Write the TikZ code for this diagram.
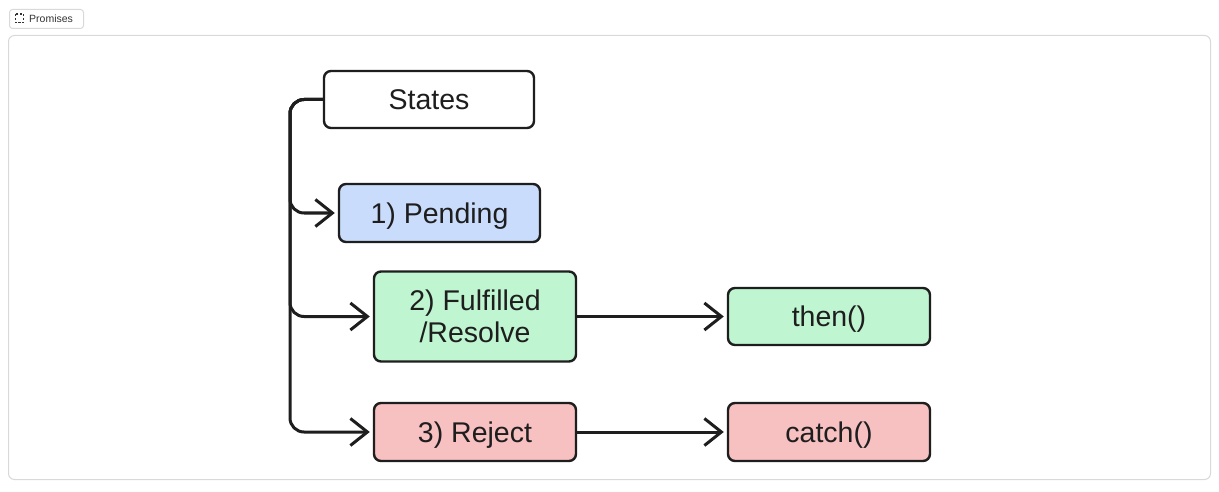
\documentclass[tikz,border=0pt]{standalone}
\usepackage{fontspec}
\setmainfont{Liberation Sans}
\usetikzlibrary{arrows.meta}
\definecolor{edgec}{HTML}{1E1E1E}
\definecolor{pendfill}{HTML}{C9DCFB}
\definecolor{okfill}{HTML}{BFF5D0}
\definecolor{badfill}{HTML}{F7C0C1}
\definecolor{panelc}{HTML}{D9D9D9}
\definecolor{tagtext}{HTML}{333333}
\tikzset{
  x=1pt, y=-1pt,
  statebox/.style={draw=edgec, line width=2.4pt, rounded corners=7pt, inner sep=0pt,
    align=center, text=edgec, font=\fontsize{28.5}{32}\selectfont,
    text height=20.5pt, text depth=0pt},
  conn/.style={draw=edgec, line width=3pt, line cap=round, line join=round,
    -{Straight Barb[length=17pt,width=27pt,line width=3pt]}, shorten >=3pt},
}
\begin{document}
\begin{tikzpicture}
\useasboundingbox (0,0) rectangle (1219,492);
\fill[white] (0,0) rectangle (1219,492);
% tag
\draw[panelc, line width=1pt, rounded corners=3pt, fill=white] (9.5,9.5) rectangle (83.5,28.5);
\draw[tagtext, line width=1.1pt, dash pattern=on 2.2pt off 1.6pt] (15.5,14) rectangle (23.5,22.5);
\node[anchor=west, inner sep=0pt, text=tagtext, font=\fontsize{10.5}{12}\selectfont] (tag) at (29,18.5) {Promises};
% panel
\draw[panelc, line width=1pt, rounded corners=6pt] (8.5,35.5) rectangle (1210.5,479.5);
% nodes
\node[statebox, fill=white, minimum width=210pt, minimum height=57pt] (states) at (429,99.5) {States};
\node[statebox, fill=pendfill, minimum width=201pt, minimum height=58pt] (pend) at (439.5,213) {1) Pending};
\node[statebox, fill=okfill, minimum width=202pt, minimum height=90pt, text height={}, text depth={}] (ful) at (475,316.5) {2) Fulfilled\\/Resolve};
\node[statebox, fill=okfill, minimum width=202pt, minimum height=57pt] (then) at (829,316.5) {then()};
\node[statebox, fill=badfill, minimum width=202pt, minimum height=58pt] (rej) at (475,432) {3) Reject};
\node[statebox, fill=badfill, minimum width=202pt, minimum height=58pt] (catch) at (829,432) {catch()};
% trunk
\coordinate (trunk) at (290,99.5);
\draw[conn, rounded corners=14pt] (states.west) -- (trunk) |- (pend.west);
\draw[conn, rounded corners=14pt] (states.west) -- (trunk) |- (ful.west);
\draw[conn, rounded corners=14pt] (states.west) -- (trunk) |- (rej.west);
\draw[conn] (ful.east) -- (then.west);
\draw[conn] (rej.east) -- (catch.west);
\end{tikzpicture}
\end{document}
